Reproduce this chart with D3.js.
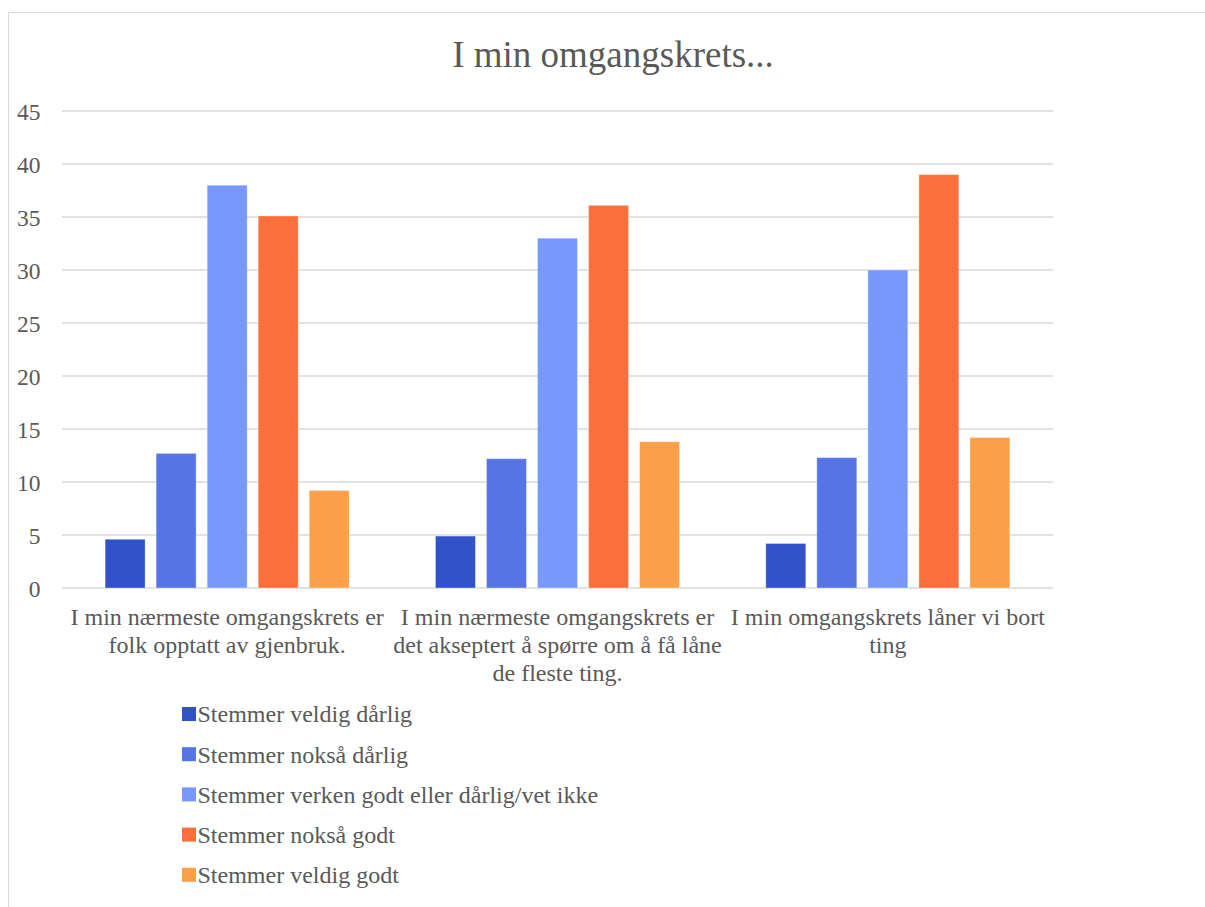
<!DOCTYPE html>
<html>
<head>
<meta charset="utf-8">
<script src="https://cdn.jsdelivr.net/npm/d3@7"></script>
<style>
  html, body { margin: 0; padding: 0; background: #fff; }
  svg { display: block; }
  text { font-family: "Liberation Serif", "Times New Roman", serif; fill: #595959; }
</style>
</head>
<body>
<svg id="chart" width="1205" height="907"></svg>
<script>
const title = "I min omgangskrets...";
const categories = [
  ["I min nærmeste omgangskrets er", "folk opptatt av gjenbruk."],
  ["I min nærmeste omgangskrets er", "det akseptert å spørre om å få låne", "de fleste ting."],
  ["I min omgangskrets låner vi bort", "ting"]
];
const seriesNames = [
  "Stemmer veldig dårlig",
  "Stemmer nokså dårlig",
  "Stemmer verken godt eller dårlig/vet ikke",
  "Stemmer nokså godt",
  "Stemmer veldig godt"
];
const seriesColors = ["#3152C8", "#5574E6", "#7898FE", "#FA703C", "#FAA04A"];
// values[series][category]
const veldigDarlig = [4.6, 4.9, 4.2];
const noksaDarlig = [12.7, 12.2, 12.3];
const verken = [38.0, 33.0, 30.0];
const noksaGodt = [35.1, 36.1, 39.0];
const veldigGodt = [9.2, 13.8, 14.2];
const seriesValues = [veldigDarlig, noksaDarlig, verken, noksaGodt, veldigGodt];
const yTicks = [0, 5, 10, 15, 20, 25, 30, 35, 40, 45];

(function () {
const svg = d3.select("#chart");

// chart border
svg.append("path")
  .attr("d", "M8.5,907 L8.5,12.5 L1205,12.5")
  .attr("fill", "none").attr("stroke", "#d9d9d9").attr("stroke-width", 1);

const pLeft = 62, pRight = 1053, pTop = 111, pBottom = 588;

const x0 = d3.scaleBand().domain(d3.range(categories.length)).range([pLeft, pRight]).padding(0);
const x1 = d3.scaleBand().domain(d3.range(seriesNames.length)).range([0, x0.bandwidth()])
  .paddingInner(0.216).paddingOuter(0.845);
const y = d3.scaleLinear().domain([0, 45]).range([pBottom, pTop]);

// title
svg.append("text")
  .attr("x", 613).attr("y", 67)
  .attr("text-anchor", "middle")
  .style("font-size", "37px")
  .text(title);

// gridlines
svg.append("g").selectAll("line").data(yTicks).join("line")
  .attr("x1", pLeft).attr("x2", pRight)
  .attr("y1", d => y(d)).attr("y2", d => y(d))
  .attr("stroke", "#d9d9d9").attr("stroke-width", 1.3);

// y axis labels
const yAxis = d3.axisLeft(y).tickValues(yTicks).tickSize(0).tickPadding(0);
const ga = svg.append("g").attr("transform", `translate(${40.5},0)`).call(yAxis);
ga.select(".domain").remove();
ga.selectAll("text")
  .style("font-family", '"Liberation Serif", "Times New Roman", serif')
  .style("font-size", "23.5px").attr("fill", "#595959").attr("dy", "0.35em");

// bars
const groups = svg.append("g").selectAll("g").data(categories.map((c, i) => i)).join("g")
  .attr("transform", i => `translate(${x0(i)},0)`);
groups.selectAll("rect")
  .data(i => seriesValues.map((vals, s) => ({ s, v: vals[i] })))
  .join("rect")
  .attr("x", d => x1(d.s))
  .attr("width", x1.bandwidth())
  .attr("y", d => y(d.v))
  .attr("height", d => y(0) - y(d.v))
  .attr("fill", d => seriesColors[d.s])
  .attr("stroke", "#ffffff").attr("stroke-opacity", 0.35).attr("stroke-width", 1);

// category labels
const catG = svg.append("g").selectAll("text").data(categories).join("text")
  .attr("x", (d, i) => x0(i) + x0.bandwidth() / 2)
  .attr("y", 625)
  .attr("text-anchor", "middle")
  .style("font-size", "24px");
catG.selectAll("tspan").data(d => d).join("tspan")
  .attr("x", function () { return d3.select(this.parentNode).attr("x"); })
  .attr("dy", (d, i) => i === 0 ? 0 : 28)
  .text(d => d);

// legend
const leg = svg.append("g").selectAll("g").data(seriesNames).join("g")
  .attr("transform", (d, i) => `translate(182,${714 + i * 40.2})`);
leg.append("rect").attr("x", 0).attr("y", -7).attr("width", 14).attr("height", 14)
  .attr("fill", (d, i) => seriesColors[i]);
leg.append("text").attr("x", 15.5).attr("y", 0).attr("dy", "0.35em")
  .style("font-size", "24px").text(d => d);
})();
</script>
</body>
</html>
